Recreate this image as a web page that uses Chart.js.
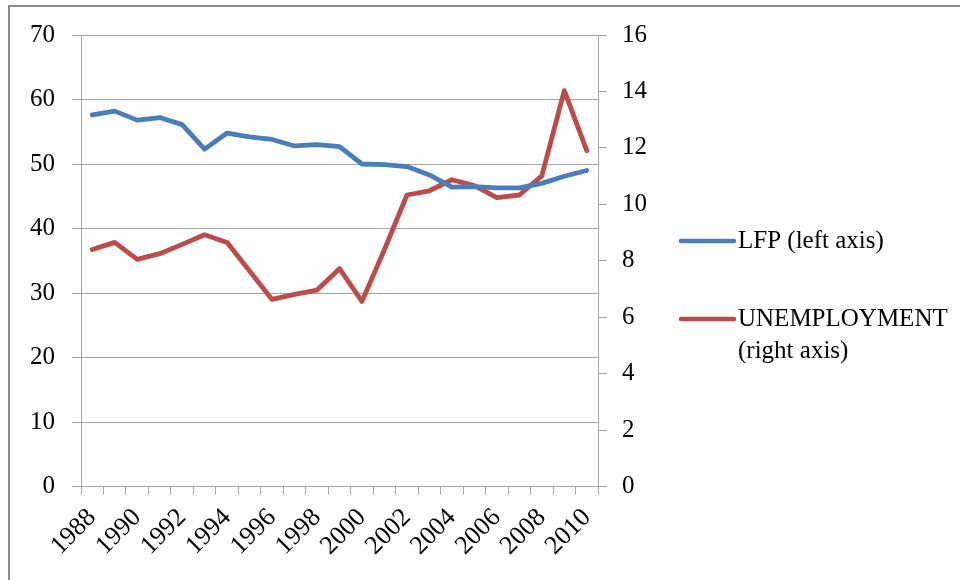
<!DOCTYPE html>
<html>
<head>
<meta charset="utf-8">
<script src="https://cdn.jsdelivr.net/npm/chart.js@4/dist/chart.umd.min.js"></script>
<style>
  html, body { margin: 0; padding: 0; background: #ffffff; }
  #wrap { width: 960px; height: 580px; position: relative; }
</style>
</head>
<body>
<div id="wrap"><canvas id="c" width="960" height="580"></canvas></div>
<script>
// Years on the category axis
const years = ['1988','1989','1990','1991','1992','1993','1994','1995','1996','1997','1998','1999',
               '2000','2001','2002','2003','2004','2005','2006','2007','2008','2009','2010'];

// Labour force participation, percent (left axis)
const lfp = [57.6, 58.2, 56.8, 57.2, 56.1, 52.3, 54.8, 54.2, 53.8, 52.8, 53.0, 52.7,
             50.0, 49.9, 49.6, 48.3, 46.4, 46.5, 46.3, 46.3, 47.0, 48.1, 49.0];

// Unemployment rate, percent (right axis)
const unemployment = [8.4, 8.65, 8.05, 8.25, 8.58, 8.92, 8.65, 7.64, 6.63, 6.81, 6.96, 7.72,
                      6.56, 8.4, 10.33, 10.48, 10.87, 10.66, 10.24, 10.33, 11.01, 14.03, 11.9];

// Legend entries (each entry may span several lines)
const legendLabels = [['LFP (left axis)'], ['UNEMPLOYMENT', '(right axis)']];

const FONT = "'Liberation Serif', 'Times New Roman', serif";
const BLUE = '#4a7ebb';
const RED = '#be4b48';
const GRID = '#a6a6a6';

// Outer frame and side legend
const framePlugin = {
  id: 'frame',
  beforeDraw(chart) {
    const ctx = chart.ctx;
    ctx.save();
    ctx.fillStyle = '#ffffff';
    ctx.fillRect(0, 0, chart.width, chart.height);
    ctx.restore();
  },
  afterDraw(chart) {
    const ctx = chart.ctx;
    ctx.save();
    ctx.strokeStyle = '#8c8c8c';
    ctx.lineWidth = 2;
    ctx.beginPath();
    ctx.moveTo(9, chart.height + 2);
    ctx.lineTo(9, 6);
    ctx.lineTo(chart.width + 2, 6);
    ctx.stroke();

    // legend
    const colors = chart.data.datasets.map(d => d.borderColor);
    const rows = [241, 319];
    ctx.font = '25px ' + FONT;
    ctx.fillStyle = '#000000';
    ctx.textBaseline = 'middle';
    ctx.textAlign = 'left';
    legendLabels.forEach((lines, i) => {
      const y = rows[i];
      ctx.strokeStyle = colors[i];
      ctx.lineWidth = 4.5;
      ctx.lineCap = 'round';
      ctx.beginPath();
      ctx.moveTo(681, y);
      ctx.lineTo(734, y);
      ctx.stroke();
      lines.forEach((t, j) => ctx.fillText(t, 738, y + j * 32));
    });
    ctx.restore();
  }
};

new Chart(document.getElementById('c'), {
  type: 'line',
  data: {
    labels: years,
    datasets: [
      { label: legendLabels[0].join(' '), data: lfp, yAxisID: 'y', borderColor: BLUE, backgroundColor: BLUE,
        borderWidth: 4.8, pointRadius: 0, tension: 0, borderCapStyle: 'round', borderJoinStyle: 'round' },
      { label: legendLabels[1].join(' '), data: unemployment, yAxisID: 'y1', borderColor: RED, backgroundColor: RED,
        borderWidth: 4.8, pointRadius: 0, tension: 0, borderCapStyle: 'round', borderJoinStyle: 'round' }
    ]
  },
  options: {
    responsive: false,
    animation: false,
    layout: { padding: { top: 35, left: 0, right: 0, bottom: 0 } },
    plugins: { legend: { display: false }, tooltip: { enabled: false } },
    scales: {
      x: {
        type: 'category',
        offset: true,
        grid: { offset: true, drawOnChartArea: false, drawTicks: true, tickLength: 8, color: GRID },
        border: { color: GRID, width: 1 },
        ticks: {
          autoSkip: false, minRotation: 45, maxRotation: 45, padding: 8,
          color: '#000', font: { family: FONT, size: 26 },
          callback: function (v, i) { return i % 2 === 0 ? this.getLabelForValue(v) : ''; }
        },
        afterFit(scale) { scale.height = 93.5; }
      },
      y: {
        position: 'left',
        min: 0, max: 70,
        ticks: { stepSize: 10, padding: 17, color: '#000', font: { family: FONT, size: 25 } },
        grid: { color: GRID, tickLength: 9 },
        border: { color: GRID, width: 1 },
        afterFit(scale) { scale.width = 81; }
      },
      y1: {
        position: 'right',
        min: 0, max: 16,
        ticks: { stepSize: 2, padding: 15, color: '#000', font: { family: FONT, size: 25 } },
        grid: { drawOnChartArea: false, color: GRID, tickLength: 9 },
        border: { color: GRID, width: 1 },
        afterFit(scale) { scale.width = 362; }
      }
    }
  },
  plugins: [framePlugin]
});
</script>
</body>
</html>
